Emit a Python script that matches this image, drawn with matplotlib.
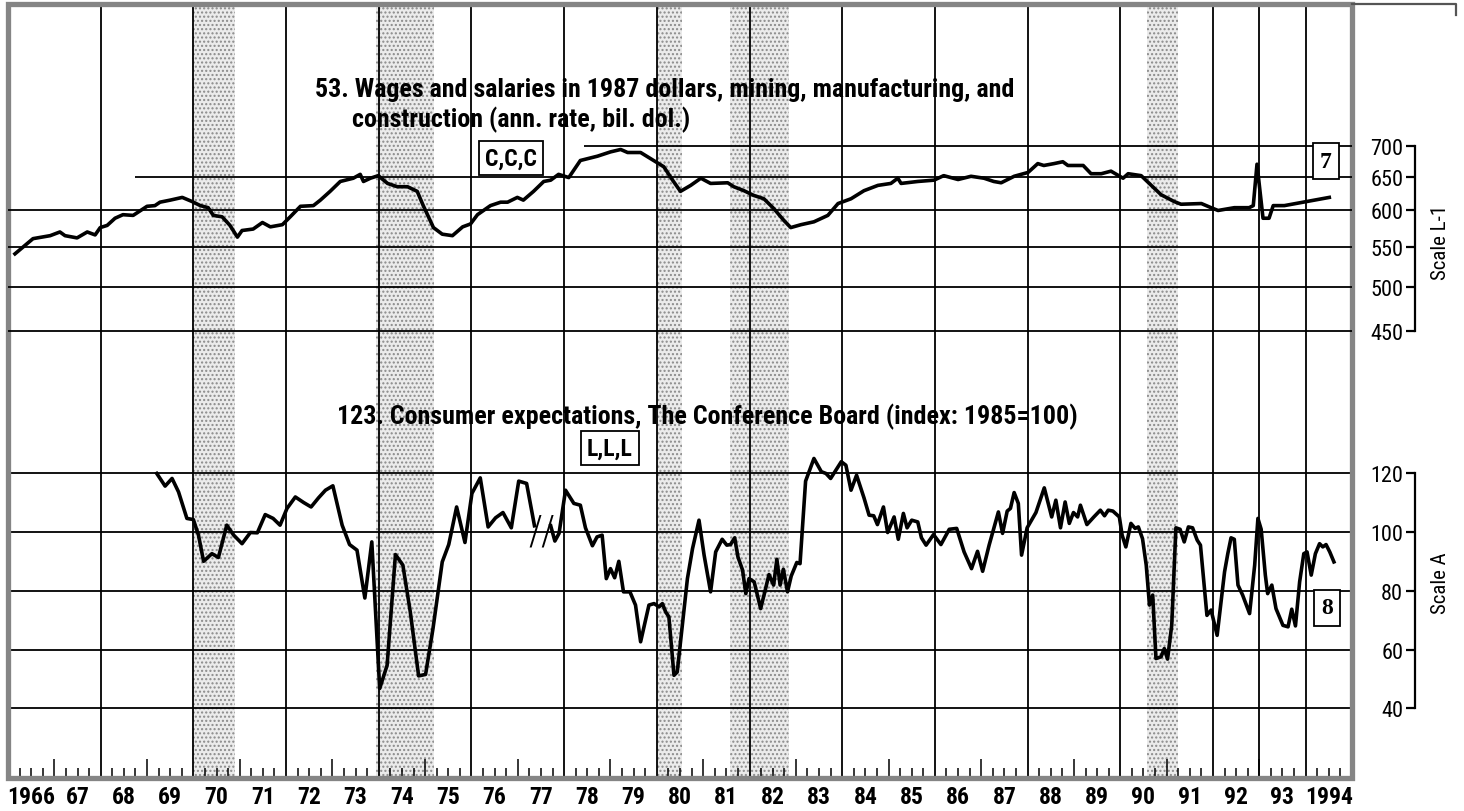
import numpy as np
import matplotlib
matplotlib.use('Agg')
import matplotlib.pyplot as plt
from matplotlib import font_manager
from matplotlib.lines import Line2D
from matplotlib.patches import Rectangle
from matplotlib.ticker import NullLocator
from matplotlib.transforms import blended_transform_factory


def pick_family(candidates, weight):
    have = {(f.name, str(f.weight)) for f in font_manager.fontManager.ttflist}
    for name in candidates:
        if (name, str(weight)) in have or (name, 'bold' if weight == 700 else 'normal') in have:
            return name
    return 'Liberation Sans'


narrow = ['Liberation Sans Narrow', 'Arial Narrow', 'Roboto Condensed', 'Archivo Narrow',
          'Pragati Narrow', 'Fira Sans Condensed']
BOLD = pick_family(narrow, 700)
REG = pick_family(narrow, 400)
plt.rcParams['font.family'] = [REG, 'DejaVu Sans']

# 53. Wages and salaries in 1987 dollars (ann. rate, bil. dol.) -- scale L-1 (log)
wage_t = [1966.15, 1966.54, 1966.91, 1967.12, 1967.23, 1967.49, 1967.71, 1967.88, 1967.99,
          1968.14, 1968.31, 1968.48, 1968.70, 1969.00, 1969.17, 1969.28, 1969.50, 1969.76,
          1969.97, 1970.15, 1970.32, 1970.43, 1970.62, 1970.79, 1970.95, 1971.05, 1971.29,
          1971.49, 1971.66, 1971.92, 1972.09, 1972.31, 1972.59, 1972.74, 1972.95, 1973.17,
          1973.45, 1973.60, 1973.67, 1973.82, 1973.99, 1974.19, 1974.40, 1974.62, 1974.83,
          1974.96, 1975.18, 1975.37, 1975.59, 1975.81, 1975.98, 1976.13, 1976.41, 1976.63,
          1976.78, 1976.99, 1977.12, 1977.34, 1977.56, 1977.71, 1977.88, 1978.10, 1978.35,
          1978.72, 1979.00, 1979.22, 1979.37, 1979.65, 1979.93, 1980.15, 1980.34, 1980.51,
          1980.73, 1980.95, 1981.16, 1981.53, 1981.66, 1981.88, 1982.09, 1982.31, 1982.52,
          1982.74, 1982.89, 1983.11, 1983.39, 1983.69, 1983.91, 1984.19, 1984.47, 1984.77,
          1985.05, 1985.20, 1985.27, 1985.63, 1985.98, 1986.19, 1986.50, 1986.78, 1987.06,
          1987.27, 1987.43, 1987.71, 1988.01, 1988.22, 1988.35, 1988.57, 1988.76, 1988.87,
          1989.20, 1989.37, 1989.59, 1989.80, 1990.06, 1990.17, 1990.45, 1990.67, 1990.88,
          1991.16, 1991.31, 1991.75, 1991.96, 1992.11, 1992.46, 1992.78, 1992.87, 1992.95,
          1993.08, 1993.21, 1993.30, 1993.54, 1993.95, 1994.27, 1994.51]
wage_v = [541, 561, 565, 570, 565, 562, 570, 566, 576,
          579, 589, 594, 593, 606, 607, 612, 615, 619,
          613, 607, 604, 593, 591, 579, 563, 572, 574,
          583, 577, 580, 591, 606, 607, 615, 628, 643,
          648, 654, 643, 648, 652, 640, 635, 635, 628,
          607, 576, 567, 565, 577, 581, 594, 607, 612,
          612, 619, 615, 628, 643, 645, 654, 649, 676,
          683, 690, 694, 689, 689, 676, 666, 645, 628,
          637, 648, 640, 641, 635, 629, 622, 617, 603,
          586, 576, 580, 584, 593, 610, 617, 629, 637,
          640, 648, 640, 643, 645, 652, 646, 651, 648,
          643, 641, 651, 657, 671, 668, 671, 674, 668,
          668, 655, 655, 659, 648, 655, 652, 637, 623,
          613, 609, 610, 604, 600, 604, 604, 607, 670,
          589, 589, 607, 607, 612, 616, 619]

# 123. Consumer expectations, The Conference Board (1985=100) -- scale A; nan = 1977 break
exp_t = [1969.21, 1969.39, 1969.54, 1969.68, 1969.86, 1970.00, 1970.11, 1970.22, 1970.40,
         1970.54, 1970.72, 1970.87, 1971.05, 1971.23, 1971.38, 1971.55, 1971.72, 1971.87,
         1972.02, 1972.20, 1972.38, 1972.54, 1972.70, 1972.85, 1973.01, 1973.21, 1973.37,
         1973.53, 1973.70, 1973.85, 1974.02, 1974.18, 1974.36, 1974.52, 1974.68, 1974.86,
         1975.01, 1975.17, 1975.37, 1975.51, 1975.68, 1975.86, 1976.01, 1976.19, 1976.36,
         1976.52, 1976.68, 1976.86, 1977.02, 1977.19, 1977.36, 1977.50, 1977.71, 1977.80,
         1977.89, 1978.03, 1978.21, 1978.35, 1978.46, 1978.61, 1978.71, 1978.82, 1978.91,
         1979.00, 1979.09, 1979.18, 1979.28, 1979.42, 1979.54, 1979.65, 1979.83, 1979.94,
         1980.05, 1980.12, 1980.19, 1980.26, 1980.37, 1980.44, 1980.55, 1980.66, 1980.77,
         1980.91, 1981.02, 1981.16, 1981.27, 1981.41, 1981.51, 1981.59, 1981.68, 1981.75,
         1981.85, 1981.92, 1981.99, 1982.10, 1982.24, 1982.33, 1982.42, 1982.52, 1982.59,
         1982.66, 1982.73, 1982.82, 1982.90, 1983.02, 1983.09, 1983.21, 1983.39, 1983.55,
         1983.65, 1983.75, 1983.98, 1984.08, 1984.19, 1984.31, 1984.47, 1984.58, 1984.68,
         1984.76, 1984.89, 1984.98, 1985.12, 1985.21, 1985.32, 1985.40, 1985.50, 1985.63,
         1985.71, 1985.81, 1985.97, 1986.13, 1986.31, 1986.47, 1986.63, 1986.79, 1986.92,
         1987.03, 1987.17, 1987.37, 1987.46, 1987.56, 1987.63, 1987.71, 1987.80, 1987.87,
         1987.99, 1988.18, 1988.36, 1988.52, 1988.61, 1988.71, 1988.81, 1988.90, 1988.99,
         1989.08, 1989.14, 1989.28, 1989.43, 1989.57, 1989.66, 1989.74, 1989.84, 1989.98,
         1990.04, 1990.12, 1990.23, 1990.32, 1990.39, 1990.48, 1990.56, 1990.63, 1990.70,
         1990.77, 1990.88, 1990.95, 1991.02, 1991.11, 1991.20, 1991.29, 1991.38, 1991.47,
         1991.56, 1991.66, 1991.73, 1991.87, 1991.96, 1992.09, 1992.25, 1992.32, 1992.39,
         1992.46, 1992.54, 1992.64, 1992.79, 1992.90, 1992.97, 1993.04, 1993.13, 1993.18,
         1993.27, 1993.36, 1993.51, 1993.62, 1993.70, 1993.78, 1993.87, 1993.96, 1994.03,
         1994.12, 1994.21, 1994.30, 1994.37, 1994.44, 1994.52, 1994.61]
exp_v = [120.0, 115.7, 118.3, 113.7, 104.7, 104.3, 99.0, 90.1, 92.7,
         91.4, 102.4, 99.0, 96.1, 99.9, 99.8, 106.0, 104.7, 102.4,
         108.1, 112.0, 110.1, 108.6, 111.7, 114.3, 115.8, 102.4, 95.8,
         93.9, 77.6, 96.7, 46.8, 54.7, 92.4, 88.8, 72.9, 51.1,
         51.6, 67.2, 89.9, 95.8, 108.6, 96.5, 113.2, 118.5, 101.8,
         104.9, 106.7, 101.5, 117.4, 116.6, 102.2, np.nan, 102.2, 97.0,
         99.6, 114.3, 109.8, 109.2, 101.5, 95.4, 98.4, 99.0, 84.2,
         87.6, 84.5, 90.1, 79.7, 79.7, 75.2, 62.7, 75.2, 75.7,
         74.6, 75.7, 72.9, 71.2, 51.3, 52.4, 68.3, 84.2, 94.4,
         104.1, 92.2, 79.7, 93.3, 97.6, 95.6, 95.8, 98.1, 91.6,
         87.1, 79.1, 84.2, 83.1, 74.0, 79.7, 85.6, 82.0, 90.8,
         82.0, 87.4, 79.7, 85.1, 89.7, 89.3, 117.4, 125.1, 120.6,
         120.0, 118.3, 124.0, 122.8, 114.3, 119.4, 111.7, 105.8, 105.6,
         102.6, 108.6, 99.9, 105.2, 97.6, 106.4, 101.5, 104.1, 103.5,
         98.1, 95.6, 99.2, 95.8, 101.0, 101.3, 93.3, 87.6, 93.5,
         86.7, 95.6, 106.9, 99.6, 107.2, 108.1, 113.5, 109.8, 92.2,
         101.5, 106.7, 115.1, 105.2, 110.9, 101.5, 110.3, 103.0, 106.7,
         105.2, 109.2, 102.6, 105.2, 107.5, 105.6, 107.5, 107.2, 105.2,
         99.0, 95.0, 103.0, 101.3, 101.8, 97.8, 88.8, 75.2, 78.6,
         57.0, 57.6, 60.4, 56.8, 68.3, 101.5, 101.0, 96.7, 101.8,
         101.5, 97.3, 95.6, 71.7, 73.5, 64.9, 86.5, 92.7, 98.1,
         97.6, 82.0, 78.6, 72.3, 88.8, 104.7, 101.0, 85.4, 79.1,
         82.0, 74.0, 68.3, 67.8, 73.8, 68.1, 83.1, 92.7, 93.3,
         85.4, 92.7, 96.1, 95.0, 95.8, 93.3, 89.9]

recessions = [(1969.97, 1970.90), (1973.95, 1975.20), (1980.00, 1980.55),
              (1981.58, 1982.85), (1990.58, 1991.25)]
wage_ticks = [450, 500, 550, 600, 650, 700]
exp_ticks = [40, 60, 80, 100, 120]
year_labels = ['1966'] + [str(y)[2:] for y in range(1967, 1994)] + ['1994']

W, H = 1464, 812
fig = plt.figure(figsize=(W / 100, H / 100), dpi=100)
ax = fig.add_axes([8 / W, 1 - 779 / H, 1344 / W, 774 / H])
ax.set_xlim(1966, 1995)
ax.set_ylim(16.34, 279.8)

ax_w = ax.twinx()
ax_w.set_yscale('log')
ax_w.set_ylim(154.9, 982)

# recession bands and grid
for a, b in recessions:
    ax.axvspan(a, b, facecolor='#ebebeb', edgecolor='#8a8a8a', hatch='....', lw=0, zorder=0)
for yr in list(range(1968, 1995, 2)) + [1993]:
    ax.axvline(yr, color='black', lw=1.3, zorder=1)
for v in exp_ticks:
    ax.axhline(v, color='black', lw=1.3, zorder=1)
for v in wage_ticks[:4]:
    ax_w.axhline(v, color='black', lw=1.3, zorder=1)
ax_w.hlines(650, 1968.74, 1995, color='black', lw=1.3, zorder=1)
ax_w.hlines(700, 1978.42, 1995, color='black', lw=1.3, zorder=1)

ax.plot(exp_t, exp_v, color='black', lw=2.6, zorder=4)
ax_w.plot(wage_t, wage_v, color='black', lw=2.6, zorder=4)
ax.text(1977.52, 100.3, '//', fontsize=28, ha='center', va='center', family='DejaVu Sans',
        fontweight='light')

# frame (plus the page rule running on at the top right)
ax.add_patch(Rectangle((0, 0), 1, 1, transform=ax.transAxes, fill=False,
                       ec='#858585', lw=3.8, clip_on=False, zorder=6))
fig.add_artist(Line2D([1352 / W, 1456 / W, 1456 / W], [1 - 5 / H, 1 - 5 / H, 1 - 16 / H],
                      color='#555555', lw=1.6))
for s in ['top', 'right', 'bottom']:
    ax.spines[s].set_visible(False)
    ax_w.spines[s].set_visible(False)

# scale A and scale L-1 axes at the right
spine_pos = 1407 / 1344
ax.spines['left'].set_position(('axes', spine_pos))
ax.spines['left'].set_bounds(40, 120)
ax.spines['left'].set_linewidth(1.6)
ax.set_yticks(exp_ticks)
ax.tick_params(axis='y', direction='out', length=6.5, width=1.6, labelsize=16, pad=2)

ax_w.yaxis.set_ticks_position('left')
ax_w.spines['left'].set_visible(True)
ax_w.spines['left'].set_position(('axes', spine_pos))
ax_w.spines['left'].set_bounds(450, 700)
ax_w.spines['left'].set_linewidth(1.6)
ax_w.set_yticks(wage_ticks)
ax_w.set_yticklabels([str(v) for v in wage_ticks])
ax_w.yaxis.set_minor_locator(NullLocator())
ax_w.tick_params(axis='y', direction='out', length=6.5, width=1.6, labelsize=16, pad=2,
                 left=True, labelleft=True, right=False, labelright=False)

fig.text(1441 / W, 1 - 242 / H, 'Scale L-1', rotation=90, ha='center', va='center', fontsize=15)
fig.text(1441 / W, 1 - 583 / H, 'Scale A', rotation=90, ha='center', va='center', fontsize=15)

# bottom ticks: tall at odd years, short each quarter
ax.set_xticks(list(range(1967, 1995, 2)))
ax.set_xticks([y + q for y in range(1966, 1995) for q in (0.25, 0.5, 0.75)], minor=True)
ax.tick_params(axis='x', which='major', direction='in', length=14, width=1.1, labelbottom=False)
ax.tick_params(axis='x', which='minor', direction='in', length=7, width=1.1)
trans = blended_transform_factory(ax.transData, ax.transAxes)
for i, lab in enumerate(year_labels):
    ax.text(1966.5 + i, -0.0245, lab, transform=trans, ha='center', va='center',
            fontsize=17, fontweight='bold', family=[BOLD, 'DejaVu Sans'])

# titles and boxes
title_kw = dict(fontsize=18.7, fontweight='bold', va='center', family=[BOLD, 'DejaVu Sans'])
fig.text(315 / W, 1 - 90 / H, '53. Wages and salaries in 1987 dollars, mining, manufacturing, and',
         **title_kw)
fig.text(352 / W, 1 - 120 / H, 'construction (ann. rate, bil. dol.)', **title_kw)
fig.text(337 / W, 1 - 417 / H, '123. Consumer expectations, The Conference Board (index: 1985=100)',
         **title_kw)

box = dict(boxstyle='square,pad=0.25', fc='white', ec='black', lw=1.3)
fig.text(511 / W, 1 - 159 / H, 'C,C,C', ha='center', va='center', fontsize=17, fontweight='bold',
         family=[BOLD, 'DejaVu Sans'], bbox=box)
fig.text(610 / W, 1 - 449 / H, 'L,L,L', ha='center', va='center', fontsize=17, fontweight='bold',
         family=[BOLD, 'DejaVu Sans'], bbox=box)
fig.text(1326 / W, 1 - 162 / H, '7', ha='center', va='center', fontsize=17, fontweight='bold',
         family='Liberation Serif', bbox=dict(boxstyle='square,pad=0.3', fc='white', ec='black', lw=1.3))
fig.text(1327 / W, 1 - 609 / H, '8', ha='center', va='center', fontsize=17, fontweight='bold',
         family='Liberation Serif', bbox=dict(boxstyle='square,pad=0.3', fc='white', ec='black', lw=1.3))

fig.savefig('out.png', dpi=100)
